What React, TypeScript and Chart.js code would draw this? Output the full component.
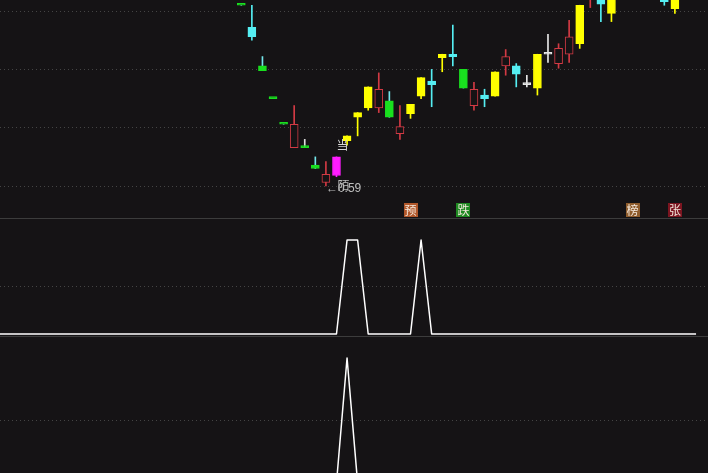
import React, { useEffect, useRef } from "react";
import { Chart, registerables } from "chart.js";

Chart.register(...registerables);

// ---------- data ----------
const candleIdx = [23, 24, 25, 26, 27, 28, 29, 30, 31, 32, 33, 34, 35, 36, 37, 38, 39, 40, 41, 42, 43, 44, 45, 46, 47, 48, 49, 50, 51, 52, 53, 54, 55, 56, 57, 58, 63, 64];
const candleKind = ["g", "c", "g", "g", "g", "r", "G", "g", "r", "m", "y", "y", "y", "r", "g", "r", "y", "y", "c", "y", "c", "g", "r", "c", "y", "r", "c", "w", "y", "w", "r", "r", "y", "r", "c", "y", "c", "y"];
const openP = [0.745, 0.726, 0.693, 0.665, 0.643, 0.623, 0.623, 0.608, 0.593, 0.599, 0.629, 0.649, 0.657, 0.657, 0.663, 0.635, 0.652, 0.667, 0.680, 0.700, 0.703, 0.690, 0.659, 0.668, 0.667, 0.693, 0.693, 0.677, 0.674, 0.703, 0.695, 0.703, 0.712, 0.752, 0.758, 0.738, 0.756, 0.742];
const highP = [0.745, 0.745, 0.701, 0.665, 0.643, 0.659, 0.630, 0.615, 0.611, 0.615, 0.633, 0.653, 0.675, 0.687, 0.671, 0.659, 0.660, 0.683, 0.690, 0.703, 0.728, 0.690, 0.679, 0.673, 0.688, 0.707, 0.695, 0.685, 0.703, 0.720, 0.712, 0.732, 0.745, 0.770, 0.762, 0.760, 0.760, 0.765];
const lowP = [0.745, 0.715, 0.689, 0.665, 0.643, 0.623, 0.623, 0.605, 0.590, 0.598, 0.625, 0.633, 0.655, 0.653, 0.649, 0.630, 0.648, 0.665, 0.658, 0.688, 0.693, 0.674, 0.655, 0.658, 0.667, 0.685, 0.675, 0.675, 0.668, 0.696, 0.691, 0.696, 0.708, 0.743, 0.731, 0.731, 0.745, 0.738];
const closeP = [0.745, 0.718, 0.689, 0.665, 0.643, 0.643, 0.623, 0.605, 0.600, 0.615, 0.633, 0.653, 0.675, 0.673, 0.649, 0.641, 0.660, 0.683, 0.677, 0.703, 0.701, 0.674, 0.673, 0.665, 0.688, 0.701, 0.686, 0.677, 0.703, 0.703, 0.708, 0.718, 0.745, 0.765, 0.746, 0.760, 0.748, 0.765];

const priceGrid = [0.59, 0.64, 0.69, 0.74];

const signalIdx = [39, 44, 60, 64];
const signalText = ["预", "跌", "榜", "张"];

const noteIdx = 32;
const noteTopText = "当";
const noteLowText = "陌";
const lowMarkIdx = 31;

const sig2 = [
  0, 0, 0, 0, 0, 0, 0, 0, 0, 0,
  0, 0, 0, 0, 0, 0, 0, 0, 0, 0,
  0, 0, 0, 0, 0, 0, 0, 0, 0, 0,
  0, 0, 0, 1, 1, 0, 0, 0, 0, 0,
  1, 0, 0, 0, 0, 0, 0, 0, 0, 0,
  0, 0, 0, 0, 0, 0, 0, 0, 0, 0,
  0, 0, 0, 0, 0, 0, 0,
];
const sig3 = [
  0, 0, 0, 0, 0, 0, 0, 0, 0, 0,
  0, 0, 0, 0, 0, 0, 0, 0, 0, 0,
  0, 0, 0, 0, 0, 0, 0, 0, 0, 0,
  0, 0, 0, 1, 0, 0, 0, 0, 0, 0,
  0, 0, 0, 0, 0, 0, 0, 0, 0, 0,
  0, 0, 0, 0, 0, 0, 0, 0, 0, 0,
  0, 0, 0, 0, 0, 0, 0,
];

// ---------- style ----------
const W = 708;
const BG = "#151315";
const GRID = "#444444";
const X_MIN = 0.184;
const X_MAX = 67.13;

const bodyColor: Record<string, string> = {
  r: "#d23a44", c: "#55eef2", y: "#ffff00", g: "#19e01f", G: "#19e01f", m: "#ff1cff", w: "#e6e6e6",
};
const wickColor: Record<string, string> = {
  r: "#d23a44", c: "#55eef2", y: "#ffff00", g: "#74e6ea", G: "#e0e0e0", m: "#ff1cff", w: "#e6e6e6",
};
const signalBg: Record<string, string> = {
  "预": "#b0572a", "跌": "#1f8a22", "榜": "#8e5c2c", "张": "#7c1520",
};

const xScaleOpts = { type: "linear" as const, display: false, offset: false, min: X_MIN, max: X_MAX };

function yScaleOpts(min: number, max: number, gridVals: number[]) {
  return {
    display: true,
    min,
    max,
    ticks: { display: false },
    grid: { color: GRID, lineWidth: 1, drawTicks: false },
    border: { display: false, dash: [1, 3] },
    afterBuildTicks: (s: any) => {
      s.ticks = gridVals.map((v) => ({ value: v }));
    },
  };
}

const annotPlugin = {
  id: "annot",
  afterDatasetsDraw(chart: any) {
    const { ctx, scales } = chart;
    const x = scales.x;
    const y = scales.y;
    const k = candleIdx.indexOf(noteIdx);
    const m = candleIdx.indexOf(lowMarkIdx);
    ctx.save();
    ctx.textBaseline = "middle";
    ctx.textAlign = "left";
    ctx.font = '12px "Noto Sans CJK SC", sans-serif';
    ctx.fillStyle = "#d4d4d4";
    ctx.fillText(noteTopText, x.getPixelForValue(noteIdx), y.getPixelForValue(highP[k]) - 11);
    // low marker
    const lx = x.getPixelForValue(lowMarkIdx);
    const ly = y.getPixelForValue(lowP[m]);
    ctx.fillStyle = "#bcbcbc";
    ctx.fillText(noteLowText, x.getPixelForValue(noteIdx) + 1, ly - 0.5);
    ctx.font = '12px "Liberation Sans", "DejaVu Sans", sans-serif';
    ctx.fillText("←" + lowP[m].toFixed(2), lx, ly + 2.5);
    // signal tags
    ctx.font = '12px "Noto Sans CJK SC", sans-serif';
    ctx.textAlign = "center";
    signalIdx.forEach((si, i) => {
      const cx = x.getPixelForValue(si);
      const cy = 210;
      ctx.fillStyle = signalBg[signalText[i]];
      ctx.fillRect(Math.round(cx - 7), cy - 7, 14, 14);
      ctx.fillStyle = "#f4e8dc";
      ctx.fillText(signalText[i], cx, cy + 0.5);
    });
    ctx.restore();
  },
};

function MainChart() {
  const ref = useRef<HTMLCanvasElement>(null);
  useEffect(() => {
    const bodies = candleIdx.map((i, k) => ({ x: i, y: [Math.min(openP[k], closeP[k]), Math.max(openP[k], closeP[k])] }));
    const wicks = candleIdx.map((i, k) => ({ x: i, y: [lowP[k], highP[k]] }));
    const chart = new Chart(ref.current!, {
      type: "bar",
      data: {
        datasets: [
          {
            data: bodies as any,
            order: 0,
            grouped: false,
            barThickness: 8,
            minBarLength: 2,
            borderSkipped: false,
            borderWidth: 1,
            backgroundColor: candleKind.map((t) => (t === "r" ? BG : bodyColor[t])),
            borderColor: candleKind.map((t) => bodyColor[t]),
          } as any,
          {
            data: wicks as any,
            order: 1,
            grouped: false,
            barThickness: 1,
            borderWidth: 0,
            backgroundColor: candleKind.map((t) => wickColor[t]),
          } as any,
        ],
      },
      options: {
        animation: false,
        responsive: false,
        devicePixelRatio: 1,
        layout: { padding: 0 },
        plugins: { legend: { display: false }, tooltip: { enabled: false } },
        scales: {
          x: xScaleOpts,
          y: yScaleOpts(0.5626, 0.7495, priceGrid) as any,
        },
      },
      plugins: [annotPlugin],
    });
    return () => chart.destroy();
  }, []);
  return <canvas ref={ref} width={W} height={218} style={{ position: "absolute", left: 0, top: 0 }} />;
}

function LinePanel({ values, top, height, yMin, yMax }: { values: number[]; top: number; height: number; yMin: number; yMax: number }) {
  const ref = useRef<HTMLCanvasElement>(null);
  useEffect(() => {
    const chart = new Chart(ref.current!, {
      type: "line",
      data: {
        datasets: [
          {
            data: values.map((v, i) => ({ x: i, y: v })),
            borderColor: "#ffffff",
            borderWidth: 1.5,
            borderJoinStyle: "round",
            pointRadius: 0,
            tension: 0,
            fill: false,
          },
        ],
      },
      options: {
        animation: false,
        responsive: false,
        devicePixelRatio: 1,
        layout: { padding: 0 },
        plugins: { legend: { display: false }, tooltip: { enabled: false } },
        scales: {
          x: xScaleOpts,
          y: yScaleOpts(yMin, yMax, [0.5]) as any,
        },
      },
    });
    return () => chart.destroy();
  }, []);
  return <canvas ref={ref} width={W} height={height} style={{ position: "absolute", left: 0, top }} />;
}

export default function App() {
  useEffect(() => {
    document.body.style.margin = "0";
    document.body.style.background = BG;
  }, []);
  return (
    <div style={{ position: "fixed", left: 0, top: 0, width: W, height: 473, background: BG, overflow: "hidden" }}>
      <MainChart />
      <div style={{ position: "absolute", left: 0, top: 218, width: W, height: 1, background: "#3c3c3c" }} />
      <LinePanel values={sig2} top={219} height={117} yMin={-0.0213} yMax={1.2234} />
      <div style={{ position: "absolute", left: 0, top: 336, width: W, height: 1, background: "#3c3c3c" }} />
      <LinePanel values={sig3} top={337} height={136} yMin={0.08} yMax={1.168} />
    </div>
  );
}
